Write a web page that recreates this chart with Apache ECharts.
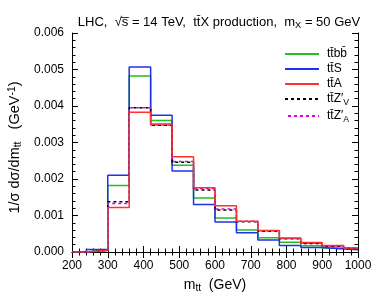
<!DOCTYPE html>
<html>
<head>
<meta charset="utf-8">
<script src="https://cdn.jsdelivr.net/npm/echarts@6/dist/echarts.min.js"></script>
<style>html,body{margin:0;padding:0;background:#fff}#c{width:382px;height:306px}</style>
</head>
<body>
<div id="c"></div>
<script>
// bin left edges (GeV); last bin closes at xMax
const binEdges = [200, 240, 300, 360, 420, 480, 540, 600, 660, 720, 780, 840, 900, 960];
const xMax = 1000;
// values in units of 1e-3 GeV^-1
const ttbb  = [0, 0.05, 1.82, 4.82, 3.60, 2.38, 1.48, 0.93, 0.60, 0.39, 0.265, 0.17, 0.11, 0.08];
const ttS   = [0, 0.07, 2.10, 5.07, 3.75, 2.22, 1.30, 0.82, 0.53, 0.33, 0.18, 0.12, 0.085, 0.065];
const ttA   = [0, 0.04, 1.22, 3.83, 3.51, 2.61, 1.76, 1.27, 0.84, 0.59, 0.385, 0.26, 0.18, 0.11];
const ttZV  = [0, 0.05, 1.38, 3.95, 3.47, 2.46, 1.70, 1.15, 0.83, 0.57, 0.36, 0.23, 0.16, 0.10];
const ttZA  = [0, 0.05, 1.33, 3.95, 3.48, 2.48, 1.74, 1.18, 0.84, 0.58, 0.37, 0.24, 0.165, 0.10];
const yTicks = ['0.000', '0.001', '0.002', '0.003', '0.004', '0.005', '0.006'];
const xTicks = ['200', '300', '400', '500', '600', '700', '800', '900', '1000'];

function hist(vals) {
  const d = binEdges.map((x, i) => [x, vals[i] * 1e-3]);
  d.push([xMax, vals[vals.length - 1] * 1e-3]);
  return d;
}
const F = 'Liberation Sans, Arial, Helvetica, sans-serif';
const chart = echarts.init(document.getElementById('c'), null, {renderer: 'canvas'});
const tickCommon = {
  axisLine: {show: true, lineStyle: {color: '#000', width: 1}},
  axisTick: {show: true, inside: true, length: 6, lineStyle: {color: '#000'}},
  minorTick: {show: true, splitNumber: 5, length: 3.5, lineStyle: {color: '#000'}},
  splitLine: {show: false}
};
function lineSeries(name, vals, color, type, offset, z) {
  return {
    name, type: 'line', step: 'end', data: hist(vals), symbol: 'none', showSymbol: false, z: z,
    xAxisIndex: 0, yAxisIndex: 0,
    lineStyle: {color, width: 1.5, type: type, dashOffset: offset || 0},
    itemStyle: {color}
  };
}
function richSet(fs) {
  return {
    n: {fontFamily: F, fontSize: fs, color: '#000', lineHeight: 16},
    sub: {fontFamily: F, fontSize: fs * 0.72, color: '#000', verticalAlign: 'bottom', lineHeight: 10},
    sup: {fontFamily: F, fontSize: fs * 0.72, color: '#000', verticalAlign: 'top', lineHeight: 10}
  };
}
chart.setOption({
  animation: false,
  title: {
    text: '{n|LHC,  \u221As\u0305 = 14 TeV,  tt\u0304X production,  m}{sub|X}{n| = 50 GeV}',
    left: 214, textAlign: 'center', top: 9,
    textStyle: {fontFamily: F, fontSize: 13, fontWeight: 'normal', color: '#000', rich: richSet(13)}
  },
  grid: {left: 72, right: 24, top: 33, bottom: 54, containLabel: false, outerBoundsMode: 'none'},
  legend: {
    orient: 'vertical', left: 279, top: 43, itemWidth: 34, itemHeight: 14, itemGap: 3,
    data: ['ttbb', 'ttS', 'ttA', 'ttZV', 'ttZA'],
    itemStyle: {opacity: 0, borderWidth: 0},
    formatter: function (n) {
      return {
        ttbb: '{n|tt\u0304bb\u0304}',
        ttS: '{n|tt\u0304S}',
        ttA: '{n|tt\u0304A}',
        ttZV: '{n|tt\u0304Z\u2032}{sub|V}',
        ttZA: '{n|tt\u0304Z\u2032}{sub|A}'
      }[n];
    },
    textStyle: {fontFamily: F, fontSize: 12, color: '#000', padding: [0, 0, 0, 3], rich: richSet(12)}
  },
  xAxis: [
    Object.assign({
      type: 'value', min: 200, max: 1000, interval: 100, position: 'bottom',
      axisLabel: {fontFamily: F, fontSize: 12, color: '#000', margin: 8,
        formatter: (v) => xTicks[Math.round((v - 200) / 100)]},
      name: '{n|m}{sub|tt}{n|  (GeV)}', nameLocation: 'middle', nameGap: 25,
      nameTextStyle: {fontFamily: F, fontSize: 14, color: '#000', rich: richSet(14)}
    }, tickCommon),
    Object.assign({
      type: 'value', min: 200, max: 1000, interval: 100, position: 'top',
      axisLabel: {show: false}
    }, tickCommon)
  ],
  yAxis: [
    Object.assign({
      type: 'value', min: 0, max: 0.006, interval: 0.001, position: 'left',
      axisLabel: {fontFamily: F, fontSize: 12, color: '#000', margin: 8,
        formatter: (v) => yTicks[Math.round(v / 0.001)]},
      name: '{n|1/\u03C3 d\u03C3/dm}{sub|tt}{n|   (GeV}{sup|-1}{n|)}', nameLocation: 'middle', nameGap: 47,
      nameTextStyle: {fontFamily: F, fontSize: 14.5, color: '#000', padding: [0, 10, 0, 0], rich: richSet(14.5)}
    }, tickCommon),
    Object.assign({
      type: 'value', min: 0, max: 0.006, interval: 0.001, position: 'right',
      axisLabel: {show: false}
    }, tickCommon)
  ],
  series: [
    lineSeries('ttbb', ttbb, '#20c020', 'solid', 0, 2),
    lineSeries('ttS', ttS, '#2030f0', 'solid', 0, 3),
    lineSeries('ttZV', ttZV, '#000000', [3, 3], 0, 4),
    lineSeries('ttZA', ttZA, '#e000e0', [3, 3], 3, 5),
    lineSeries('ttA', ttA, '#ff3030', 'solid', 0, 6)
  ]
});
</script>
</body>
</html>
